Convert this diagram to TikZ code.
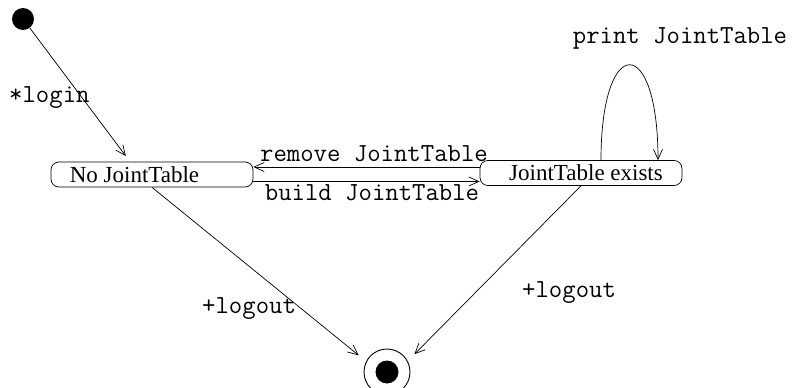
\documentclass[tikz,border=0pt]{standalone}
\usepackage{fontspec}
\setmainfont{Liberation Serif}
\usetikzlibrary{arrows.meta}
\begin{document}
\begin{tikzpicture}[x=1pt,y=-1pt,
  statebox/.style={draw, line width=0.7pt, rounded corners=8pt,
    minimum width=202pt, minimum height=25pt, inner sep=0pt,
    font=\fontsize{23}{27}\selectfont},
  lbl/.style={font=\ttfamily\fontsize{26}{30}\selectfont, inner sep=0pt},
  tr/.style={draw, line width=0.7pt, -{Straight Barb[length=10pt,width=9pt]}}]
\useasboundingbox (0,0) rectangle (793,388);

% states
\node[circle, fill, minimum size=22pt, inner sep=0pt] (init) at (23,19) {};
\node[statebox] (s1) at (152,174.5) {No JointTable\hspace*{35pt}};
\node[statebox] (s2) at (581,173) {\hspace*{10pt}JointTable exists};
\node[circle, draw, line width=0.9pt, minimum size=46pt, inner sep=0pt] (final) at (387,372) {};
\fill (final.center) circle (11.5pt);

% transitions
\draw[tr, shorten >=7pt] (init) -- ([xshift=-22pt]s1.north);
\draw[tr] ([yshift=6pt]s2.west) -- ([yshift=6pt]s2.west -| s1.east);
\draw[tr] ([yshift=-7pt]s1.east) -- ([yshift=-7pt]s1.east -| s2.west);
\draw[tr] ([xshift=20pt]s2.north) .. controls +(0,-127) and +(0,-127) .. ([xshift=77pt]s2.north);
\draw[tr, shorten >=9.5pt] (s1.south) -- (final.153);
\draw[tr, shorten >=9.5pt] (s2.south) -- (final.28);

% labels
\node[lbl, anchor=base west] (llogin) at (9,102) {*login};
\node[lbl, anchor=base] (lremove) at (374,161) {remove JointTable};
\node[lbl, anchor=base] (lbuild) at (372,200) {build JointTable};
\node[lbl, anchor=base] (lprint) at (680,43) {print JointTable};
\node[lbl, anchor=base west] (lout1) at (202,313) {+logout};
\node[lbl, anchor=base west] (lout2) at (522,297) {+logout};
\end{tikzpicture}
\end{document}
